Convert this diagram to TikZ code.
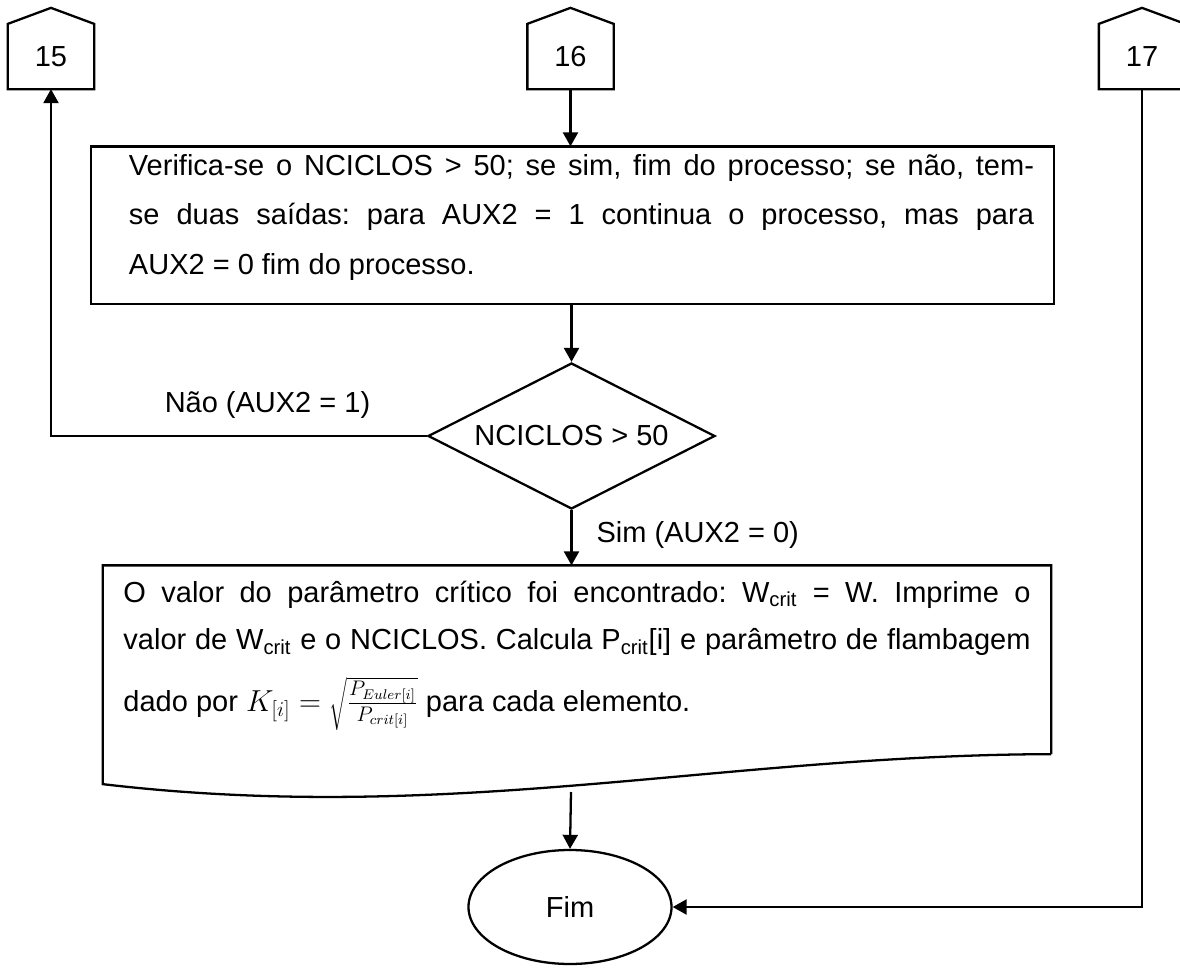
\documentclass[tikz,border=0pt]{standalone}
\usepackage{fontspec}
\setmainfont{Liberation Sans}
\usetikzlibrary{arrows.meta,shapes.geometric}
\frenchspacing

% outline of an off-page connector around a named node
\newcommand{\drawoffpage}[1]{%
  \draw (#1.south west) -- (#1.north west) -- ([yshift=0.32cm]#1.north)
    -- (#1.north east) -- (#1.south east) -- cycle;}

\begin{document}
\begin{tikzpicture}[x=0.2mm, y=-0.2mm, line width=1.3pt,
  every node/.style={font=\fontsize{16.5pt}{19pt}\selectfont},
  arr/.style={-{Triangle[length=0.28cm, width=0.3cm]}},
  conn/.style={rectangle, minimum width=1.68cm, minimum height=1.26cm, inner sep=0pt},
  procbox/.style={rectangle, align=justify, anchor=base, text height=0.42cm},
  decision/.style={draw, diamond, aspect=2, minimum width=5.74cm, minimum height=2.92cm, inner sep=0pt},
  terminal/.style={draw, ellipse, minimum width=4.06cm, minimum height=2.28cm},
  lbl/.style={inner sep=0pt}]

  \useasboundingbox (0,0) rectangle (1180,968);

  %% Off-page connectors
  \node[conn] (c15) at (51,56.5) {15};
  \node[conn] (c16) at (570.5,56.5) {16};
  \node[conn] (c17) at (1142,56.5) {17};
  \drawoffpage{c15}
  \drawoffpage{c16}
  \drawoffpage{c17}

  %% Check of the number of cycles
  \node[procbox, inner xsep=0.38cm, inner ysep=0.13cm, text width=18.1cm, text depth=2.43cm,
    font=\fontsize{16.5pt}{28.35pt}\selectfont] (verif) at (581.5,175)
    {Verifica-se o NCICLOS > 50; se sim, fim do processo; se não, tem-\linebreak
     se duas saídas: para AUX2 = 1 continua o processo, mas para\linebreak
     AUX2 = 0 fim do processo.};
  \draw ([xshift=-0.36cm]verif.north west) rectangle (verif.south east);

  %% Decision
  \node[decision] (dec) at (571.5,436) {NCICLOS > 50};

  %% Result (document shape)
  \node[procbox, inner xsep=0.39cm, inner ysep=0.29cm, text width=18.14cm, text depth=2.73cm,
    font=\fontsize{16.5pt}{27.2pt}\selectfont] (result) at (577,602)
    {O valor do parâmetro crítico foi encontrado: W\textsubscript{crit} = W. Imprime o\linebreak
     valor de W\textsubscript{crit} e o NCICLOS. Calcula P\textsubscript{crit}[i] e parâmetro de flambagem\linebreak
     \rule{0pt}{30.5pt}dado por $K_{[i]} = \sqrt{\frac{P_{Euler[i]}}{P_{crit[i]}}}$ para cada elemento.};
  \draw (result.south east) -- (result.north east) -- (result.north west)
    -- ([yshift=-0.6cm]result.south west) .. controls (450,825) and (720,755) .. (result.south east);
  \coordinate (docbot) at (571,792);

  %% End
  \node[terminal] (fim) at (570,907) {Fim};

  %% Connectors
  \draw[arr] (c16.south) -- (c16.south |- verif.north);
  \draw[arr] (verif.south -| dec.north) -- (dec.north);
  \draw[arr] (dec.west) -| node[lbl, pos=0.212, anchor=base, yshift=0.48cm] {Não (AUX2 = 1)} (c15.south);
  \draw[arr] (dec.south) -- node[lbl, pos=0.586, anchor=base west, xshift=0.48cm] {Sim (AUX2 = 0)} (dec.south |- result.north);
  \draw[arr] (docbot) -- (fim.north);
  \draw[arr] (c17.south) |- (fim.east);
\end{tikzpicture}
\end{document}
